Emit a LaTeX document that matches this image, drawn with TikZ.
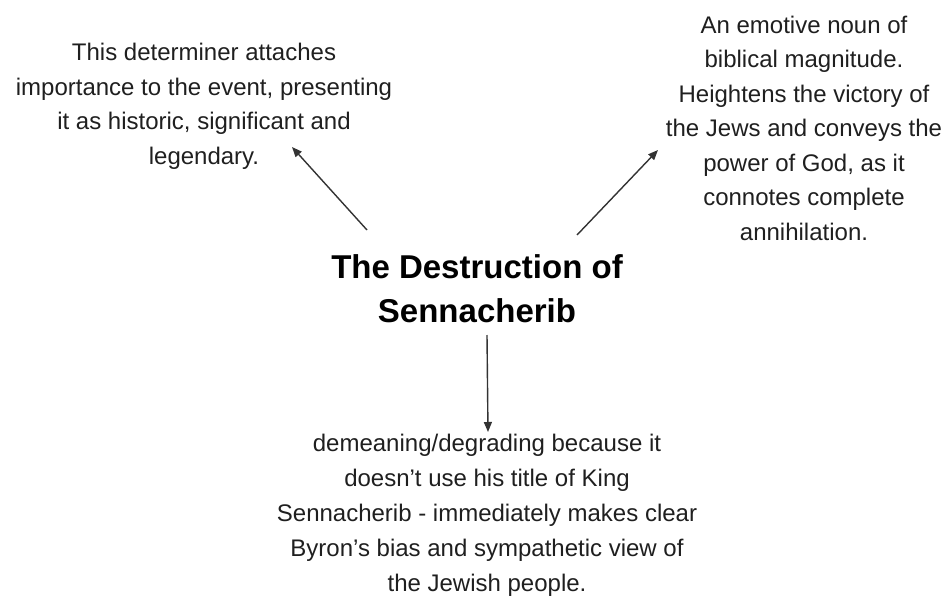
\documentclass[tikz,border=0pt]{standalone}
\usepackage{fontspec}
\setmainfont{Liberation Sans}
\usetikzlibrary{arrows.meta}
\begin{document}
\begin{tikzpicture}[x=1pt,y=-1pt,
  note/.style={align=center,inner sep=0pt,font=\fontsize{24}{34.5}\selectfont,text=black!88},
  titlebox/.style={align=center,inner sep=0pt,font=\bfseries\fontsize{33}{44}\selectfont,text=black},
  arr/.style={draw=black!80,line width=1.4pt,-{Triangle[length=10pt,width=8pt]}}]
\useasboundingbox (0,0) rectangle (948,597);
\node[titlebox,anchor=base] (t) at (477,322) {The Destruction of\\Sennacherib};
\node[note,anchor=base] (l) at (204,164) {This determiner attaches\\importance to the event, presenting\\it as historic, significant and\\legendary.};
\node[note,anchor=base] (r) at (804,240) {An emotive noun of\\biblical magnitude.\\Heightens the victory of\\the Jews and conveys the\\power of God, as it\\connotes complete\\annihilation.};
\node[note,anchor=base,font=\fontsize{24}{35}\selectfont] (b) at (487,591) {demeaning/degrading because it\\doesn't use his title of King\\Sennacherib - immediately makes clear\\Byron's bias and sympathetic view of\\the Jewish people.};
\coordinate (s1) at (367,230);
\coordinate (e1) at (292,147);
\coordinate (s2) at (577,235);
\coordinate (e2) at (658,150);
\coordinate (s3) at (487,335);
\coordinate (e3) at (488,432);
\draw[arr] (s1) -- (e1);
\draw[arr] (s2) -- (e2);
\draw[arr] (s3) -- (e3);
\end{tikzpicture}
\end{document}
